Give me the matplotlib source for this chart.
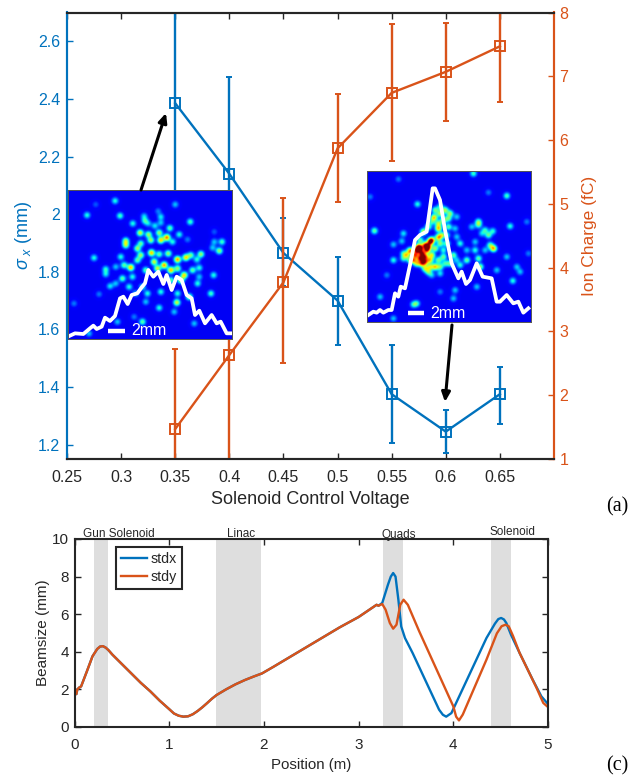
#!/usr/bin/env python3
import numpy as np
import matplotlib
matplotlib.use('Agg')
import matplotlib.pyplot as plt

plt.rcParams['font.family'] = ['Liberation Sans', 'DejaVu Sans']
plt.rcParams['mathtext.fontset'] = 'custom'
plt.rcParams['mathtext.rm'] = 'Liberation Sans'
plt.rcParams['mathtext.it'] = 'Liberation Sans:italic'

W, H = 631, 777
BLUE, ORANGE, DARK = '#0072BD', '#D95319', '#262626'

## top panel data
voltage = [0.35, 0.40, 0.45, 0.50, 0.55, 0.60, 0.65]
sigma_x = [2.385, 2.14, 1.865, 1.70, 1.375, 1.245, 1.375]
sigma_hi = [2.85, 2.475, 1.985, 1.85, 1.545, 1.32, 1.47]
sigma_lo = [1.92, 1.80, 1.75, 1.545, 1.205, 1.17, 1.27]
charge = [1.47, 2.63, 3.77, 5.87, 6.74, 7.07, 7.47]
charge_hi = [2.72, 4.2, 5.09, 6.72, 7.82, 7.84, 8.4]
charge_lo = [0.2, 1.0, 2.5, 5.03, 5.67, 6.3, 6.6]

## bottom panel data
pos_common = [0, .02, .03, .05, .07, .13, .19, .24, .27, .30, .33, .36, .4, .5, .6, .7, .8, .9, 1.0, 1.05, 1.1, 1.15, 1.2,
              1.25, 1.3, 1.35, 1.4, 1.45, 1.5, 1.6, 1.7, 1.8, 1.9, 1.98, 2.1, 2.2, 2.4, 2.6, 2.8, 3.0, 3.19, 3.21]
size_common = [1.8, 1.75, 2.0, 2.1, 2.16, 2.95, 3.76, 4.15, 4.28, 4.3, 4.22, 4.08, 3.85, 3.35, 2.85, 2.35, 1.9, 1.4, .95, .72, .6, .55, .57,
               .68, .85, 1.05, 1.27, 1.5, 1.7, 2.0, 2.27, 2.5, 2.7, 2.85, 3.2, 3.5, 4.1, 4.7, 5.3, 5.85, 6.5, 6.45]
pos_x = [3.25, 3.31, 3.34, 3.365, 3.39, 3.42, 3.45, 3.49, 3.57, 3.85, 3.89, 3.925, 3.98, 4.03, 4.35, 4.44, 4.475, 4.505, 4.535, 4.56, 4.61, 4.7, 4.84, 4.93, 5.0]
size_x = [6.6, 7.57, 8.0, 8.19, 8.0, 6.77, 5.35, 4.73, 3.94, .92, .65, .55, .74, 1.28, 4.73, 5.5, 5.74, 5.8, 5.72, 5.53, 4.9, 3.94, 2.5, 1.63, 1.22]
pos_y = [3.25, 3.285, 3.33, 3.365, 3.4, 3.44, 3.475, 3.52, 3.64, 4.0, 4.03, 4.06, 4.1, 4.35, 4.46, 4.51, 4.55, 4.585, 4.63, 4.7, 4.88, 4.95, 5.0]
size_y = [6.54, 6.24, 5.53, 5.23, 5.44, 6.5, 6.77, 6.5, 5.09, 1.1, .55, .35, .66, 3.58, 4.98, 5.36, 5.44, 5.36, 4.85, 3.94, 2.07, 1.28, 1.06]
spans = [(.208, .349), (1.49, 1.97), (3.26, 3.47), (4.40, 4.61)]
span_labels = ['Gun Solenoid', 'Linac', 'Quads', 'Solenoid']
span_label_x = [.47, 1.76, 3.42, 4.62]
span_label_y = [9.95, 9.95, 9.9, 10.05]

## inset spots: x, y (zoom pixels), brightness
spots_left = [(163,62,.4),(343,73,.3),(79,105,.4),(178,107,.45),(105,73,.15),(292,93,.2),(300,110,.35),(250,108,.3),(388,125,.45),
    (216,130,.4),(252,122,.4),(262,130,.3),(282,137,.35),(300,128,.3),(327,144,.5),(238,158,.7),(263,163,.6),(295,158,.6),(318,172,.95),
    (300,180,.8),(270,180,.6),(195,182,.6),(195,195,.6),(240,190,.5),(355,163,.4),(335,185,.4),(380,178,.2),(483,185,.45),(460,185,.3),
    (475,212,.6),(455,203,.3),(460,155,.15),(230,205,.6),(272,218,.85),(295,222,.5),(322,220,.6),(350,238,.9),(375,232,.8),(390,225,.5),
    (420,222,.6),(408,238,.4),(240,225,.6),(210,262,.85),(180,230,.4),(100,233,.4),(190,255,.5),(165,260,.3),(135,267,.4),(135,282,.35),
    (280,245,.7),(310,255,.9),(290,265,.7),(330,270,.85),(350,265,.6),(370,285,.8),(395,270,.5),(415,263,.4),(415,290,.3),(458,285,.4),
    (185,295,.5),(215,290,.4),(205,320,.4),(148,318,.35),(165,310,.3),(260,340,.4),(245,320,.4),(225,340,.3),(300,335,.4),(350,340,.4),
    (385,350,.6),(450,340,.45),(410,310,.4),(348,367,.7),(295,383,.4),(115,342,.2),(40,370,.2),(255,365,.3),(245,425,.5),(170,425,.3),
    (400,430,.3),(85,460,.3),(220,410,.2),(340,395,.3),(230,240,.5),(255,270,.5),(330,300,.5),(360,300,.7)]
spots_right = [(340,40,.45),(115,57,.2),(385,97,.2),(440,107,.45),(30,110,.2),(172,132,.4),(43,212,.5),(130,220,.35),(125,243,.3),
    (100,253,.3),(355,185,.5),(355,195,.4),(335,200,.3),(450,198,.4),(375,210,.4),(398,213,.4),(385,225,.5),(365,220,.3),(345,245,.3),
    (400,265,.85),(390,255,.5),(345,270,.4),(375,270,.3),(320,270,.3),(290,230,.3),(300,250,.4),(440,290,.3),(470,320,.3),(480,335,.3),
    (458,362,.4),(410,330,.3),(355,295,.5),(360,320,.6),(320,300,.5),(300,315,.4),(100,300,.4),(80,345,.2),(60,410,.3),(170,430,.4),
    (160,433,.4),(240,395,.2),(285,390,.3),(280,415,.3),(350,380,.3),(100,475,.3),(500,185,.2),(505,280,.2),
    (255,150,.6),(240,140,.4),(270,160,.55),(222,172,.8),(250,180,.55),(290,170,.3),(215,185,.4),(235,205,.8),(265,200,.5),(190,215,.7),
    (235,232,.8),(210,245,.9),(195,255,.95),(170,270,1.),(185,280,1.),(150,272,.9),(200,270,.95),(180,295,1.),(195,305,.85),(215,285,.7),
    (225,265,.6),(260,250,.5),(225,320,.75),(205,335,.5),(170,310,.6),(130,295,.4),(250,290,.5),(240,320,.5),(270,310,.5),(280,285,.5),(250,270,.4),
    (165,285,.9),(175,260,.8),(195,290,.9),(160,300,.7),(185,310,.8),(210,300,.7),(205,260,.9),(215,240,.8),(180,265,.9),(140,285,.6),
    (210,320,.6),(195,325,.6),(235,300,.5),(240,250,.55),(245,225,.55),(225,150,.5),(265,175,.5),(240,160,.6),(235,190,.6),(205,200,.5),
    (260,225,.4),(285,205,.3),(150,300,.5),(130,280,.4),(180,240,.5),(255,310,.4),(290,300,.3),(215,345,.3),(240,340,.35)]
profile_left_x = [30,45,70,90,100,110,125,135,150,165,180,190,203,215,232,245,255,265,280,295,310,320,335,350,365,380,395,405,418,435,455,470,482,500,512]
profile_left_y = [467,460,462,445,437,447,440,413,423,408,355,350,372,345,340,322,310,270,290,275,312,285,330,290,300,345,355,405,392,430,405,430,425,460,460]
profile_right_x = [25,40,50,60,70,85,95,105,115,122,135,150,165,180,200,218,225,240,255,275,295,305,318,330,350,368,395,410,420,440,460,475,490,505]
profile_right_y = [465,455,458,450,458,450,450,400,410,380,385,315,240,225,215,85,85,120,210,310,355,335,372,360,310,350,355,425,425,405,430,425,458,445]


def px_axes(fig, x0, y0, x1, y1, **kw):
    ## axes from pixel box, y counted from the top of the picture
    return fig.add_axes([x0/W, 1-y1/H, (x1-x0)/W, (y1-y0)/H], **kw)


def draw_inset(fig, box, zoom_origin, spots, px, py, bar, label_x, label_y):
    x0, y0, x1, y1 = box
    ax = px_axes(fig, x0, y0, x1, y1)
    ## zoom pixels are 3x the picture pixels
    zx0, zy0 = (x0-zoom_origin[0])*3, (y0-zoom_origin[1])*3
    zx1, zy1 = (x1-zoom_origin[0])*3, (y1-zoom_origin[1])*3
    xx, yy = np.meshgrid(np.arange(zx0, zx1), np.arange(zy0, zy1))
    img = np.zeros_like(xx, dtype=float)
    for sx, sy, amp in spots:
        img += 0.75*amp*np.exp(-((xx-sx)**2+(yy-sy)**2)/(2*7.0**2))
    ax.imshow(img, cmap='jet', vmin=-0.11, vmax=0.95, extent=(zx0, zx1, zy1, zy0), aspect='auto', interpolation='bilinear')
    ax.plot(px, py, color='white', lw=2.7, solid_joinstyle='round')
    ax.plot(bar[:2], [bar[2], bar[2]], color='white', lw=3.2, solid_capstyle='butt')
    ax.text(label_x, label_y, '2mm', color='white', fontsize=11.5, va='center', ha='left')
    ax.set_xlim(zx0, zx1)
    ax.set_ylim(zy1, zy0)
    ax.set_xticks([])
    ax.set_yticks([])
    for s in ax.spines.values():
        s.set_color('#555555')
        s.set_linewidth(0.7)
    return ax


fig = plt.figure(figsize=(W/100, H/100), dpi=100)

## top panel
ax1 = px_axes(fig, 67, 12.5, 554, 459)
ax2 = ax1.twinx()
err_kw = dict(capsize=2.5, lw=1.7, capthick=1.6, marker='s', ms=7.2, mfc='none', mew=1.4)
ax1.errorbar(voltage, sigma_x, yerr=[np.array(sigma_x)-sigma_lo, np.array(sigma_hi)-sigma_x], color=BLUE, **err_kw)
ax2.errorbar(voltage, charge, yerr=[np.array(charge)-charge_lo, np.array(charge_hi)-charge], color=ORANGE, **err_kw)
ax1.set_xlim(0.25, 0.70)
ax1.set_ylim(1.15, 2.7)
ax2.set_ylim(1, 8)
ax1.set_xticks([0.25, 0.3, 0.35, 0.4, 0.45, 0.5, 0.55, 0.6, 0.65])
ax1.set_xticklabels(['0.25', '0.3', '0.35', '0.4', '0.45', '0.5', '0.55', '0.6', '0.65'])
ax1.set_yticks([1.2, 1.4, 1.6, 1.8, 2, 2.2, 2.4, 2.6])
ax1.set_yticklabels(['1.2', '1.4', '1.6', '1.8', '2', '2.2', '2.4', '2.6'])
ax2.set_yticks(range(1, 9))
ax1.tick_params(axis='x', direction='in', top=True, length=4.5, width=1, colors=DARK, labelsize=11.5, pad=8)
ax1.tick_params(axis='y', direction='in', length=4.5, width=1, colors=BLUE, labelsize=11.5, pad=5)
ax2.tick_params(axis='y', direction='in', length=4.5, width=1, colors=ORANGE, labelsize=11.5, pad=4)
ax1.set_xlabel('Solenoid Control Voltage', fontsize=13, color=DARK, labelpad=4)
ax1.set_ylabel(r'$\sigma_{\ x}$ (mm)', fontsize=13, color=BLUE, labelpad=3)
ax2.set_ylabel('Ion Charge (fC)', fontsize=12.5, color=ORANGE, labelpad=10)
for a in (ax1, ax2):
    a.spines['top'].set_color(DARK)
    a.spines['bottom'].set_color(DARK)
    a.spines['left'].set_color(BLUE)
    a.spines['right'].set_color(ORANGE)
    for s in a.spines.values():
        s.set_linewidth(1.5)

draw_inset(fig, (67.5, 190, 232, 339), (60, 180), spots_left, profile_left_x, profile_left_y, (145, 195, 452), 213, 452)
draw_inset(fig, (367, 171, 531, 322), (360, 160), spots_right, profile_right_x, profile_right_y, (145, 192, 460), 212, 460)

## arrows, in picture pixels
overlay = fig.add_axes([0, 0, 1, 1], facecolor='none')
overlay.set_xlim(0, W)
overlay.set_ylim(H, 0)
overlay.axis('off')
arrow_kw = dict(arrowstyle='-|>,head_width=0.25,head_length=0.55', color='black', lw=2.2, shrinkA=0, shrinkB=0)
overlay.annotate('', xy=(166, 113), xytext=(141, 190), arrowprops=arrow_kw)
overlay.annotate('', xy=(445, 402), xytext=(452, 325), arrowprops=arrow_kw)
overlay.text(606, 507, '(a)', family='Liberation Serif', fontsize=14.5, color='black', va='center')
overlay.text(606, 766, '(c)', family='Liberation Serif', fontsize=14.5, color='black', va='center')

## bottom panel
ax3 = px_axes(fig, 74.5, 539, 548, 727)
for a, b in spans:
    ax3.axvspan(a, b, color='#dedede', lw=0)
ax3.plot(pos_common+pos_x, size_common+size_x, color=BLUE, lw=1.7, label='stdx')
ax3.plot(pos_common+pos_y, size_common+size_y, color=ORANGE, lw=1.7, label='stdy')
ax3.set_xlim(0, 5)
ax3.set_ylim(0, 10)
ax3.set_xticks(range(6))
ax3.set_yticks(range(0, 11, 2))
ax3.tick_params(direction='in', top=True, right=True, length=4, width=1, colors=DARK, labelsize=11, pad=8)
ax3.tick_params(axis='y', pad=4)
ax3.set_xlabel('Position (m)', fontsize=10.8, color=DARK, labelpad=4)
ax3.set_ylabel('Beamsize (mm)', fontsize=11, color=DARK, labelpad=1.5)
for s in ax3.spines.values():
    s.set_color(DARK)
    s.set_linewidth(1.5)
for tx, ty, name in zip(span_label_x, span_label_y, span_labels):
    ax3.text(tx, ty, name, ha='center', va='bottom', fontsize=8.5, color=DARK)
leg = ax3.legend(loc='upper left', bbox_to_anchor=(0.0885, 0.96), borderaxespad=0, fontsize=10.3, fancybox=False, framealpha=1,
                 edgecolor=DARK, handlelength=1.8, handletextpad=0.25, borderpad=0.35, labelspacing=0.3, labelcolor=DARK)
leg.get_frame().set_linewidth(1.5)

fig.savefig('out.png', dpi=100)
